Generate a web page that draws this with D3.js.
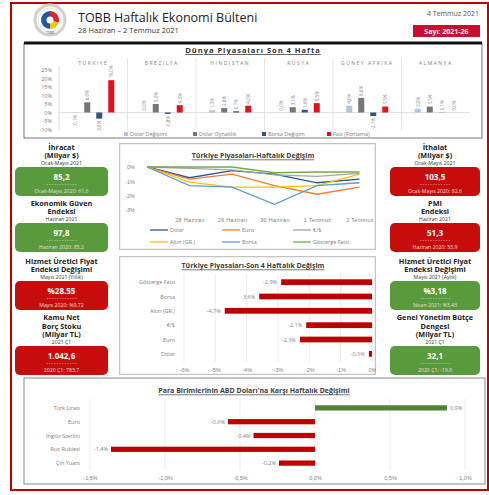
<!DOCTYPE html>
<html>
<head>
<meta charset="utf-8">
<script src="https://cdnjs.cloudflare.com/ajax/libs/d3/7.8.5/d3.min.js"></script>
<style>
    body { margin: 0; background: #fff; }
    svg { display: block; font-family: "Open Sans", "Noto Sans", sans-serif; }
</style>
</head>
<body>
<svg id="chart" width="489" height="495"></svg>
<script>
// ---- data ----
const countries = ["TÜRKIYE", "BREZILYA", "HINDISTAN", "RUSYA", "GÜNEY AFRIKA", "ALMANYA"];
const worldSeries = ["Dolar Değişimi", "Dolar Oynaklık", "Borsa Değişim", "Faiz (Fonlama)"];
const dolarDegisimi = [-0.1, 0.0, 1.3, 0.0, 4.0, 2.2];
const dolarOynaklik = [6.0, 5.0, 2.6, 3.1, 8.6, 3.5];
const borsaDegisim = [-3.6, -0.8, 0.7, 1.6, -2.1, 0.1];
const faizFonlama = [19.0, 4.3, 4.0, 5.5, 3.5, 0.0];
const worldTicks = [25, 20, 15, 10, 5, 0, -5, -10];

const days = ["", "28 Haziran", "29 Haziran", "30 Haziran", "1 Temmuz", "2 Temmuz"];
const weeklySeries = ["Dolar", "Euro", "€/$", "Altın (GR.)", "Borsa", "Gösterge Faizi"];
const wDolar = [0, -0.75, -0.25, -0.5, -1.1, -0.85];
const wEuro = [0, -0.85, -0.5, -1.3, -1.9, -1.4];
const wEurUsd = [0, -0.1, -0.2, -0.55, -0.65, -0.45];
const wAltin = [0, -1.05, -1.4, -1.4, -1.3, -0.5];
const wBorsa = [0, -1.3, -1.4, -2.6, -1.3, -1.1];
const wFaiz = [0, 0, 0, -0.4, -0.35, -0.35];
const weeklyTicks = [0, -1, -2, -3];

const fourWeekCats = ["Gösterge Faizi", "Borsa", "Altın (GR.)", "€/$", "Euro", "Dolar"];
const fourWeekVals = [-2.9, -3.6, -4.7, -2.1, -2.3, -0.1];
const fourWeekTicks = [-6, -5, -4, -3, -2, -1, 0];

const currencies = ["Türk Lirası", "Euro", "İngiliz Sterlini", "Rus Rublesi", "Çin Yuanı"];
const currencyVals = [0.88, -0.58, -0.41, -1.36, -0.24];
const currencyTicks = [-1.5, -1.0, -0.5, 0, 0.5, 1.0];

// indicator boxes (left column, right column)
const leftTitles = [["İhracat", "(Milyar $)"], ["Ekonomik Güven", "Endeksi"], ["Hizmet Üretici Fiyat", "Endeksi Değişimi"], ["Kamu Net", "Borç Stoku", "(Milyar TL)"]];
const leftPeriods = ["Ocak-Mayıs 2021", "Haziran 2021", "Mayıs 2021 (Yıllık)", "2021 Ç1"];
const leftValues = ["85,2", "97,8", "%28.55", "1.042,6"];
const leftPrevious = ["Ocak-Mayıs 2020: 61,6", "Haziran 2020: 85,2", "Mayıs 2020: %9,72", "2020 Ç1: 783,7"];
const leftStatus = ["good", "good", "bad", "bad"];

const rightTitles = [["İthalat", "(Milyar $)"], ["PMI", "Endeksi"], ["Hizmet Üretici Fiyat", "Endeksi Değişimi"], ["Genel Yönetim Bütçe", "Dengesi", "(Milyar TL)"]];
const rightPeriods = ["Ocak-Mayıs 2021", "Haziran 2021", "Mayıs 2021 (Aylık)", "2021 Ç1"];
const rightValues = ["103,5", "51,3", "%3,18", "32,1"];
const rightPrevious = ["Ocak-Mayıs 2020: 82,6", "Haziran 2020: 53,9", "Nisan 2021: %3,43", "2020 Ç1: -19,9"];
const rightStatus = ["bad", "bad", "good", "good"];

// ---- helpers ----
const svg = d3.select("#chart");
const grey = "#808080";
const titleCol = "#404040";
const fmtPct = v => d3.format(".1f")(v).replace(".", ",").replace("−", "-") + "%";
const fmtInt = v => d3.format("d")(v).replace("−", "-") + "%";

function text(g, x, y, s, size, opts) {
    opts = opts || {};
    return g.append("text")
        .attr("x", x).attr("y", y)
        .attr("dominant-baseline", "central")
        .attr("text-anchor", opts.anchor || "start")
        .attr("font-size", size)
        .attr("font-weight", opts.weight || null)
        .attr("fill", opts.fill || "#222")
        .attr("letter-spacing", opts.spacing || null)
        .attr("text-decoration", opts.underline ? "underline" : null)
        .text(s);
}

// ---- frame + header ----
svg.append("rect").attr("width", 489).attr("height", 495).attr("fill", "#fff");
svg.append("rect")
    .attr("x", 11).attr("y", 3).attr("width", 477).attr("height", 487)
    .attr("fill", "none").attr("stroke", "#c00000").attr("stroke-width", 2);

// logo
const logo = svg.append("g").attr("transform", "translate(50,20)");
logo.append("circle").attr("r", 15).attr("fill", "#fff").attr("stroke", "#d0d0d0").attr("stroke-width", 3);
logo.append("circle").attr("r", 12).attr("fill", "none").attr("stroke", "#e6e6e6").attr("stroke-width", 1);
const arc = d3.arc().innerRadius(0).outerRadius(9);
[["#1d5aa6", -Math.PI, 0], ["#d62631", 0, Math.PI * 0.6], ["#f2c300", Math.PI * 0.6, Math.PI]].forEach(a => {
    logo.append("path").attr("d", arc({ startAngle: a[1], endAngle: a[2] })).attr("fill", a[0]);
});
logo.append("circle").attr("r", 3.5).attr("fill", "#fff");
text(logo, 0, 13, "TOBB", 3, { anchor: "middle", fill: "#555" });

text(svg, 78, 17, "TOBB Haftalık Ekonomi Bülteni", 12.5, { fill: "#222" });
text(svg, 78, 30, "28 Haziran – 2 Temmuz 2021", 7.5, { fill: "#333" });
text(svg, 479, 13, "4 Temmuz 2021", 7, { anchor: "end", fill: "#555" });
svg.append("rect").attr("x", 413).attr("y", 25).attr("width", 67).attr("height", 12).attr("fill", "#c8102e");
text(svg, 446.5, 31, "Sayı: 2021-26", 7, { anchor: "middle", fill: "#fff", weight: "bold" });

// ---- Dünya Piyasaları Son 4 Hafta ----
const worldPanel = svg.append("g");
worldPanel.append("rect").attr("x", 24).attr("y", 43).attr("width", 458).attr("height", 95)
    .attr("fill", "#fff").attr("stroke", "#555").attr("stroke-width", 0.8);
worldPanel.append("line").attr("x1", 24).attr("x2", 482).attr("y1", 43).attr("y2", 43)
    .attr("stroke", "#111").attr("stroke-width", 3);
text(worldPanel, 253, 50, "Dünya Piyasaları Son 4 Hafta", 7.5, { anchor: "middle", weight: "bold", fill: "#333", spacing: 1, underline: true });

const x0 = d3.scaleBand().domain(countries).range([59, 470]);
const x1 = d3.scaleBand().domain(worldSeries).range([10.25, 58.25]).paddingInner(0.5).paddingOuter(0.25);
const yW = d3.scaleLinear().domain([-10, 25]).range([129.5, 70]);
const worldColors = d3.scaleOrdinal().domain(worldSeries).range(["#adc4e2", "#767676", "#34507e", "#e3101c"]);
const worldRows = countries.map((c, i) => ({
    country: c,
    values: [dolarDegisimi[i], dolarOynaklik[i], borsaDegisim[i], faizFonlama[i]]
}));

// separators, axis, zero line
worldPanel.selectAll(".sep").data(countries.slice(1))
    .join("line")
    .attr("x1", d => x0(d)).attr("x2", d => x0(d))
    .attr("y1", 58).attr("y2", 130)
    .attr("stroke", "#e0e0e0").attr("stroke-width", 0.8);
worldPanel.append("line").attr("x1", 59).attr("x2", 59).attr("y1", 66).attr("y2", 130).attr("stroke", "#d9d9d9");
worldPanel.append("line").attr("x1", 59).attr("x2", 470).attr("y1", yW(0)).attr("y2", yW(0)).attr("stroke", "#d9d9d9").attr("stroke-width", 0.8);

worldPanel.selectAll(".ytick").data(worldTicks)
    .join("text")
    .attr("x", 52).attr("y", d => yW(d))
    .attr("dominant-baseline", "central").attr("text-anchor", "end")
    .attr("font-size", 5.5).attr("fill", grey)
    .text(fmtInt);

worldPanel.selectAll(".country").data(countries)
    .join("text")
    .attr("x", d => x0(d) + x0.bandwidth() / 2).attr("y", 63)
    .attr("dominant-baseline", "central").attr("text-anchor", "middle")
    .attr("font-size", 5).attr("fill", grey).attr("letter-spacing", 1.5)
    .text(d => d);

const groups = worldPanel.selectAll(".grp").data(worldRows)
    .join("g")
    .attr("transform", d => `translate(${x0(d.country)},0)`);

const cells = groups.selectAll(".cell")
    .data(d => d.values.map((v, j) => ({ key: worldSeries[j], value: v })))
    .join("g");

cells.append("rect")
    .attr("x", d => x1(d.key))
    .attr("width", x1.bandwidth())
    .attr("y", d => yW(Math.max(0, d.value)))
    .attr("height", d => Math.abs(yW(d.value) - yW(0)))
    .attr("fill", d => worldColors(d.key));

cells.append("text")
    .attr("transform", d => {
        const cx = x1(d.key) + x1.bandwidth() / 2;
        const cy = d.value >= 0 ? yW(d.value) - 2 : yW(d.value) + 2;
        return `translate(${cx},${cy}) rotate(-90)`;
    })
    .attr("text-anchor", d => d.value >= 0 ? "start" : "end")
    .attr("dominant-baseline", "central")
    .attr("font-size", 4.5).attr("fill", grey)
    .text(d => fmtPct(d.value));

const legendX = [126, 195, 264, 329];
const wLeg = worldPanel.selectAll(".wleg").data(worldSeries)
    .join("g")
    .attr("transform", (d, i) => `translate(${legendX[i]},134)`);
wLeg.append("rect").attr("x", -2).attr("y", -2).attr("width", 4).attr("height", 4).attr("fill", d => worldColors(d));
wLeg.append("text").attr("x", 4).attr("dominant-baseline", "central")
    .attr("font-size", 5.5).attr("fill", grey).text(d => d);

// ---- indicator boxes ----
const boxTops = [167, 223, 281, 346];
function drawBoxes(cx, bx, bw, titles, periods, values, prev, status) {
    titles.forEach((lines, i) => {
        const bt = boxTops[i];
        lines.forEach((l, k) => {
            text(svg, cx, bt - 12 - 8.5 * (lines.length - 1 - k), l, 7.3, { anchor: "middle", weight: "bold", fill: "#222" });
        });
        text(svg, cx, bt - 4.5, periods[i], 5.2, { anchor: "middle", fill: "#333" });
        svg.append("rect").attr("x", bx).attr("y", bt).attr("width", bw).attr("height", 29)
            .attr("rx", 5).attr("fill", status[i] === "good" ? "#589a3c" : "#c70c0c");
        text(svg, cx, bt + 9.5, values[i], 8, { anchor: "middle", weight: "bold", fill: "#fff" });
        text(svg, cx, bt + 16.5, "- - - - - - - - - - - -", 4.5, { anchor: "middle", fill: "#fff" });
        text(svg, cx, bt + 23.5, prev[i], 5.2, { anchor: "middle", fill: "#f3dede" });
    });
}
drawBoxes(61.5, 15, 93, leftTitles, leftPeriods, leftValues, leftPrevious, leftStatus);
drawBoxes(435, 390, 90, rightTitles, rightPeriods, rightValues, rightPrevious, rightStatus);

// ---- Türkiye Piyasaları-Haftalık Değişim (line chart) ----
svg.append("clipPath").attr("id", "clipLine")
    .append("rect").attr("x", 119).attr("y", 143).attr("width", 257).attr("height", 107);
const lc = svg.append("g").attr("clip-path", "url(#clipLine)");
lc.append("rect").attr("x", 119).attr("y", 143).attr("width", 257).attr("height", 107)
    .attr("fill", "#fff").attr("stroke", "#c4c4c4").attr("stroke-width", 2.5);
text(lc, 253, 155, "Türkiye Piyasaları-Haftalık Değişim", 7, { anchor: "middle", weight: "bold", fill: titleCol, underline: true });

const xL = d3.scalePoint().domain(days).range([147, 359.5]);
const yL = d3.scaleLinear().domain([-3, 0]).range([210, 167]);
const weeklyColors = ["#2e5597", "#ed7d31", "#a5a5a5", "#ffc000", "#5b9bd5", "#70ad47"];
const weeklyData = [wDolar, wEuro, wEurUsd, wAltin, wBorsa, wFaiz];

const yAxisL = d3.axisLeft(yL).tickValues(weeklyTicks).tickSize(0).tickFormat(fmtInt);
lc.append("g").attr("transform", "translate(138,0)").call(yAxisL)
    .call(g => g.select(".domain").remove())
    .selectAll("text").attr("font-size", 5.5).attr("fill", grey).attr("font-family", null);

const xAxisL = d3.axisBottom(xL).tickSize(0).tickFormat(d => d);
lc.append("g").attr("transform", "translate(0,215)").call(xAxisL)
    .call(g => g.select(".domain").remove())
    .selectAll("text").attr("font-size", 5.5).attr("fill", grey).attr("font-family", null).attr("letter-spacing", 0.3);

const line = d3.line().x((d, i) => xL(days[i])).y(d => yL(d));
lc.selectAll(".wline").data(weeklyData)
    .join("path")
    .attr("d", line)
    .attr("fill", "none")
    .attr("stroke", (d, i) => weeklyColors[i])
    .attr("stroke-width", 1.3);

const legCols = [150, 222, 293];
const lLeg = lc.selectAll(".lleg").data(weeklySeries)
    .join("g")
    .attr("transform", (d, i) => `translate(${legCols[i % 3]},${i < 3 ? 230 : 242})`);
lLeg.append("line").attr("x1", 0).attr("x2", 18)
    .attr("stroke", (d, i) => weeklyColors[i]).attr("stroke-width", 1.3);
lLeg.append("text").attr("x", 20).attr("dominant-baseline", "central")
    .attr("font-size", 5.5).attr("fill", grey).text(d => d);

// ---- Türkiye Piyasaları-Son 4 Haftalık Değişim ----
svg.append("clipPath").attr("id", "clipBar")
    .append("rect").attr("x", 119).attr("y", 256).attr("width", 257).attr("height", 119);
const bc = svg.append("g").attr("clip-path", "url(#clipBar)");
bc.append("rect").attr("x", 119).attr("y", 256).attr("width", 257).attr("height", 119)
    .attr("fill", "#fff").attr("stroke", "#c4c4c4").attr("stroke-width", 2.5);
text(bc, 253, 265, "Türkiye Piyasaları-Son 4 Haftalık Değişim", 7, { anchor: "middle", weight: "bold", fill: titleCol, underline: true });

const xB = d3.scaleLinear().domain([-6, 0]).range([184, 372]);
const yB = d3.scaleBand().domain(fourWeekCats).range([275, 361]).paddingInner(0.6).paddingOuter(0.3);

bc.selectAll(".bgrid").data(fourWeekTicks)
    .join("line")
    .attr("x1", d => xB(d)).attr("x2", d => xB(d))
    .attr("y1", 274).attr("y2", 362)
    .attr("stroke", "#e6e6e6").attr("stroke-width", 0.8);

const xAxisB = d3.axisBottom(xB).tickValues(fourWeekTicks).tickSize(0).tickFormat(fmtInt);
bc.append("g").attr("transform", "translate(0,365)").call(xAxisB)
    .call(g => g.select(".domain").remove())
    .selectAll("text").attr("font-size", 5.5).attr("fill", grey).attr("font-family", null);

bc.selectAll(".bcat").data(fourWeekCats)
    .join("text")
    .attr("x", 175).attr("y", d => yB(d) + yB.bandwidth() / 2)
    .attr("dominant-baseline", "central").attr("text-anchor", "end")
    .attr("font-size", 5.5).attr("fill", grey).text(d => d);

bc.selectAll(".bbar").data(fourWeekVals)
    .join("rect")
    .attr("x", d => xB(d))
    .attr("y", (d, i) => yB(fourWeekCats[i]))
    .attr("width", d => xB(0) - xB(d))
    .attr("height", yB.bandwidth())
    .attr("fill", "#c00000");

bc.selectAll(".bval").data(fourWeekVals)
    .join("text")
    .attr("x", d => xB(d) - 4)
    .attr("y", (d, i) => yB(fourWeekCats[i]) + yB.bandwidth() / 2)
    .attr("dominant-baseline", "central").attr("text-anchor", "end")
    .attr("font-size", 5.5).attr("fill", grey).text(fmtPct);

// ---- Para Birimlerinin ABD Doları'na Karşı Haftalık Değişimi ----
const cc = svg.append("g");
cc.append("rect").attr("x", 24).attr("y", 378).attr("width", 461).attr("height", 106)
    .attr("fill", "none").attr("stroke", "#8a8a8a").attr("stroke-width", 1);
text(cc, 254, 390, "Para Birimlerinin ABD Doları'na Karşı Haftalık Değişimi", 7, { anchor: "middle", weight: "bold", fill: titleCol, underline: true });

const xC = d3.scaleLinear().domain([-1.5, 1.0]).range([90, 465]);
const yC = d3.scaleBand().domain(currencies).range([401, 470]).paddingInner(0.62).paddingOuter(0.31);

cc.selectAll(".cgrid").data(currencyTicks)
    .join("line")
    .attr("x1", d => xC(d)).attr("x2", d => xC(d))
    .attr("y1", 399).attr("y2", 470)
    .attr("stroke", "#e6e6e6").attr("stroke-width", 0.8);

const xAxisC = d3.axisBottom(xC).tickValues(currencyTicks).tickSize(0).tickFormat(fmtPct);
cc.append("g").attr("transform", "translate(0,473)").call(xAxisC)
    .call(g => g.select(".domain").remove())
    .selectAll("text").attr("font-size", 5.5).attr("fill", grey).attr("font-family", null);

cc.selectAll(".ccat").data(currencies)
    .join("text")
    .attr("x", 80).attr("y", d => yC(d) + yC.bandwidth() / 2)
    .attr("dominant-baseline", "central").attr("text-anchor", "end")
    .attr("font-size", 5.5).attr("fill", grey).text(d => d);

cc.selectAll(".cbar").data(currencyVals)
    .join("rect")
    .attr("x", d => Math.min(xC(d), xC(0)))
    .attr("y", (d, i) => yC(currencies[i]))
    .attr("width", d => Math.abs(xC(d) - xC(0)))
    .attr("height", yC.bandwidth())
    .attr("fill", d => d >= 0 ? "#538135" : "#c00000");

cc.selectAll(".cval").data(currencyVals)
    .join("text")
    .attr("x", d => d >= 0 ? xC(d) + 3 : xC(d) - 3)
    .attr("y", (d, i) => yC(currencies[i]) + yC.bandwidth() / 2)
    .attr("dominant-baseline", "central")
    .attr("text-anchor", d => d >= 0 ? "start" : "end")
    .attr("font-size", 5.5).attr("fill", grey).text(fmtPct);
</script>
</body>
</html>
